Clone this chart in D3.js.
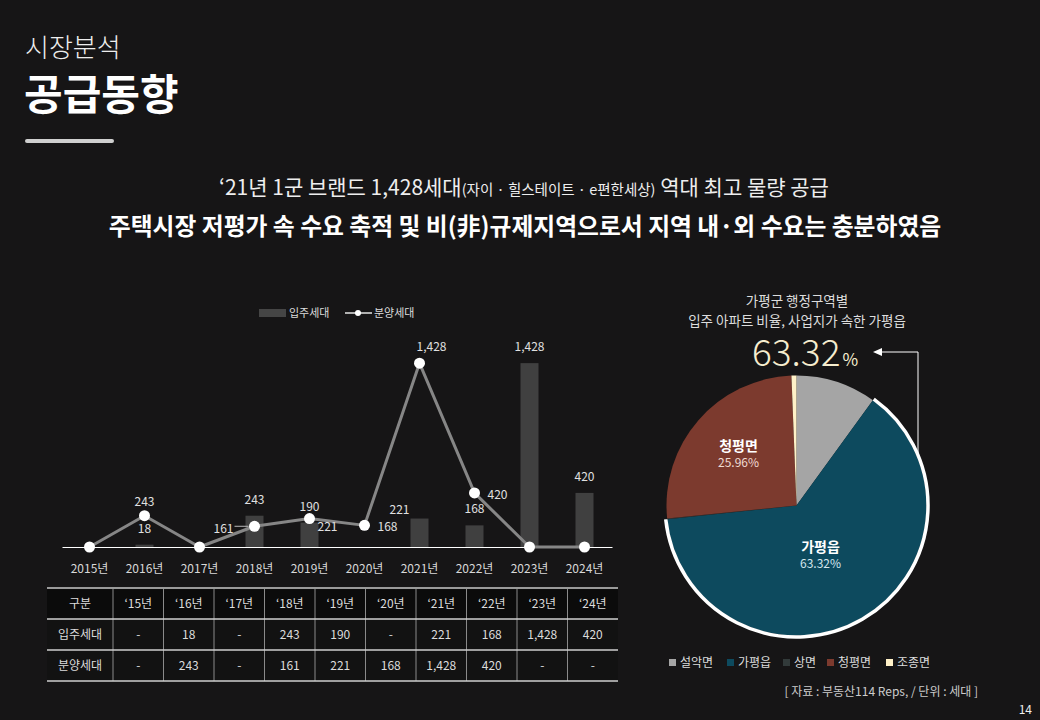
<!DOCTYPE html>
<html><head><meta charset="utf-8">
<script src="https://cdn.jsdelivr.net/npm/d3@7"></script>
<style>
body{margin:0;background:#161516;}
svg{display:block;font-family:"Noto Sans CJK KR","Noto Sans",sans-serif;}
</style>
</head><body>
<svg id="c" width="1040" height="720"></svg>
<script>
// ---------- data ----------
const years = ["2015년","2016년","2017년","2018년","2019년","2020년","2021년","2022년","2023년","2024년"];
const tableYears = ["‘15년","‘16년","‘17년","‘18년","‘19년","‘20년","‘21년","‘22년","‘23년","‘24년"];
const moveIn = [0,18,0,243,190,0,221,168,1428,420];      // 입주세대 (bars)
const sales  = [0,243,0,161,221,168,1428,420,0,0];      // 분양세대 (line)
const moveInText = ["-","18","-","243","190","-","221","168","1,428","420"];
const salesText  = ["-","243","-","161","221","168","1,428","420","-","-"];
const regions = ["설악면","가평읍","상면","청평면","조종면"];
const shares  = [10.0,63.32,0.1,25.96,0.62];
const seriesNames = ["입주세대","분양세대"];

// ---------- styles ----------
const regionColors = ["#a5a5a5","#0d4a5e","#323a3a","#7c3a2e","#fff1c8"];
const barLabelOff = [null,[0,0],null,[0,0],[0,0],null,[-20,7],[0,0],[0,0],[0,0]];
const lineLabelOff = [null,[0,-14],null,[-31,3],[18,8],[23,2],[12,-16],[23,2],null,null];

const svg = d3.select("#c");
svg.append("rect").attr("width",1040).attr("height",720).attr("fill","#161516");

// ---------- header ----------
svg.append("text").attr("x",25).attr("y",57).attr("fill","#eeeeee")
  .attr("font-size",26).attr("font-weight",300).text("시장분석");
svg.append("text").attr("x",24).attr("y",110).attr("fill","#ffffff")
  .attr("font-size",42).attr("font-weight",700).text("공급동향");
svg.append("rect").attr("x",25).attr("y",139).attr("width",89).attr("height",4)
  .attr("rx",2).attr("fill","#cfcfcf");

const t1 = svg.append("text").attr("x",524).attr("y",195).attr("text-anchor","middle")
  .attr("fill","#eeeeee").attr("font-size",21);
t1.append("tspan").text("‘21년 1군 브랜드 1,428세대");
t1.append("tspan").attr("font-size",14.5).text("(자이 · 힐스테이트 · e편한세상)");
t1.append("tspan").text(" 역대 최고 물량 공급");
svg.append("text").attr("x",525).attr("y",235).attr("text-anchor","middle")
  .attr("fill","#ffffff").attr("font-size",23.8).attr("font-weight",700)
  .text("주택시장 저평가 속 수요 축적 및 비(非)규제지역으로서 지역 내·외 수요는 충분하였음");

// ---------- combo chart ----------
const x = d3.scaleBand().domain(years).range([62,612]);
const y = d3.scaleLinear().domain([0,1600]).range([547,341]);
const cx = d => x(d) + x.bandwidth()/2;

// legend
svg.append("rect").attr("x",259).attr("y",309).attr("width",27).attr("height",8).attr("fill","#454545");
svg.append("text").attr("x",289).attr("y",317).attr("fill","#dddddd").attr("font-size",11).text(seriesNames[0]);
svg.append("line").attr("x1",345).attr("x2",372).attr("y1",313).attr("y2",313).attr("stroke","#b0b0b0").attr("stroke-width",2);
svg.append("circle").attr("cx",358).attr("cy",313).attr("r",3).attr("fill","#fff");
svg.append("text").attr("x",374).attr("y",317).attr("fill","#dddddd").attr("font-size",11).text(seriesNames[1]);

// bars
const bw = 18;
svg.append("g").selectAll("rect").data(moveIn).join("rect")
  .attr("x",(d,i)=>cx(years[i])-bw/2).attr("width",bw)
  .attr("y",d=>y(d)).attr("height",d=>y(0)-y(d))
  .attr("fill","#404040");

// baseline axis
const xAxis = svg.append("g").attr("transform",`translate(0,${y(0)})`)
  .call(d3.axisBottom(x).tickSize(0).tickPadding(17));
xAxis.select(".domain").attr("stroke","#ffffff").attr("stroke-width",1.2);
xAxis.selectAll("text").attr("fill","#d8d8d8").attr("font-size",12)
  .attr("font-family",'"Noto Sans CJK KR",sans-serif');

// line
const line = d3.line().x((d,i)=>cx(years[i])).y(d=>y(d));
svg.append("path").datum(sales).attr("d",line).attr("fill","none")
  .attr("stroke","#868686").attr("stroke-width",3).attr("stroke-linejoin","round");
svg.append("g").selectAll("circle").data(sales).join("circle")
  .attr("cx",(d,i)=>cx(years[i])).attr("cy",d=>y(d)).attr("r",5.5).attr("fill","#ffffff");

// bar labels
const bl = svg.append("g").attr("font-size",12).attr("fill","#e0e0e0").attr("text-anchor","middle");
moveIn.forEach((v,i)=>{
  const o = barLabelOff[i]; if(!o) return;
  bl.append("text").attr("x",cx(years[i])+o[0]).attr("y",y(v)-12+o[1]).text(moveInText[i]);
});
// line labels
const ll = svg.append("g").attr("font-size",12).attr("fill","#e0e0e0").attr("text-anchor","middle");
sales.forEach((v,i)=>{
  const o = lineLabelOff[i]; if(!o) return;
  ll.append("text").attr("x",cx(years[i])+o[0]).attr("y",y(v)+4+o[1]).text(salesText[i]);
});
// leader line for 161
svg.append("line").attr("x1",cx(years[3])-20).attr("x2",cx(years[3])-6)
  .attr("y1",y(sales[3])).attr("y2",y(sales[3])).attr("stroke","#bbbbbb").attr("stroke-width",1);

// ---------- table ----------
const colX = d3.scaleBand().domain(tableYears).range([113,618]);
const rowsY = [588,619,650,681];
const tg = svg.append("g");
tg.append("rect").attr("x",47).attr("y",588).attr("width",571).attr("height",31).attr("fill","#0b0b0b");
tg.append("rect").attr("x",47).attr("y",619).attr("width",571).attr("height",62).attr("fill","#121212");
const rowData = [["구분",...tableYears],[seriesNames[0],...moveInText],[seriesNames[1],...salesText]];
rowData.forEach((r,ri)=>{
  r.forEach((c,ci)=>{
    const xx = ci===0 ? 80 : colX(tableYears[ci-1]) + colX.bandwidth()/2;
    tg.append("text").attr("x",xx).attr("y",(rowsY[ri]+rowsY[ri+1])/2+4.5)
      .attr("text-anchor","middle").attr("font-size",12).attr("fill","#dcdcdc").text(c);
  });
});
tableYears.forEach(t=>{
  tg.append("line").attr("x1",colX(t)).attr("x2",colX(t)).attr("y1",588).attr("y2",681)
    .attr("stroke","#8a8a8a").attr("stroke-width",1);
});
rowsY.forEach((yy,i)=>{
  tg.append("line").attr("x1",47).attr("x2",618).attr("y1",yy).attr("y2",yy)
    .attr("stroke",i===0?"#9a9a9a":"#cfcfcf").attr("stroke-width",i===0?2:1.3);
});

// ---------- pie ----------
const pc = [796.5,505.5], R = 130;
svg.append("text").attr("x",797).attr("y",306).attr("text-anchor","middle")
  .attr("fill","#dddddd").attr("font-size",13.5).text("가평군 행정구역별");
svg.append("text").attr("x",797).attr("y",326).attr("text-anchor","middle")
  .attr("fill","#dddddd").attr("font-size",13.5).text("입주 아파트 비율, 사업지가 속한 가평읍");
const big = svg.append("text").attr("x",752).attr("y",366).attr("fill","#f6edcf");
big.append("tspan").attr("font-size",37).attr("font-weight",300).text("63.32");
big.append("tspan").attr("font-size",17).attr("dx",2).text("%");

const pie = d3.pie().sort(null).value(d=>d);
const arcs = pie(shares);
const arc = d3.arc().innerRadius(0).outerRadius(R);
const pg = svg.append("g").attr("transform",`translate(${pc[0]},${pc[1]})`);
pg.selectAll("path").data(arcs).join("path").attr("d",arc)
  .attr("fill",(d,i)=>regionColors[i]);
// white outline on 가평읍 outer edge
const a1 = arcs[1];
pg.append("path").attr("d", d3.arc().innerRadius(R+1.5).outerRadius(R+1.5)({startAngle:a1.startAngle,endAngle:a1.endAngle}))
  .attr("fill","none").attr("stroke","#ffffff").attr("stroke-width",3.5);
// slice labels
const lab = [[3,-58,-55],[1,24,46]];
lab.forEach(([i,dx,dy])=>{
  pg.append("text").attr("x",dx).attr("y",dy).attr("text-anchor","middle")
    .attr("fill","#ffffff").attr("font-size",14).attr("font-weight",700).text(regions[i]);
  pg.append("text").attr("x",dx).attr("y",dy+16).attr("text-anchor","middle")
    .attr("fill",i===3?"#f0dcd4":"#d4e6ee").attr("font-size",12).text(shares[i].toFixed(2)+"%");
});

// arrow
svg.append("path").attr("d","M918,455 V352 H880").attr("fill","none").attr("stroke","#ffffff").attr("stroke-width",1);
svg.append("path").attr("d","M873,352 L882,348 L882,356 Z").attr("fill","#ffffff");

// pie legend
const lgX = [669,727,783,827,886];
regions.forEach((r,i)=>{
  svg.append("rect").attr("x",lgX[i]).attr("y",659).attr("width",7).attr("height",7).attr("fill",regionColors[i]);
  svg.append("text").attr("x",lgX[i]+11).attr("y",667).attr("fill","#dddddd").attr("font-size",12).text(r);
});

svg.append("text").attr("x",978).attr("y",696).attr("text-anchor","end")
  .attr("fill","#cccccc").attr("font-size",12).text("[ 자료 : 부동산114 Reps, / 단위 : 세대 ]");
svg.append("text").attr("x",1032).attr("y",714).attr("text-anchor","end")
  .attr("fill","#eeeeee").attr("font-size",12).text("14");
</script>
</body></html>
